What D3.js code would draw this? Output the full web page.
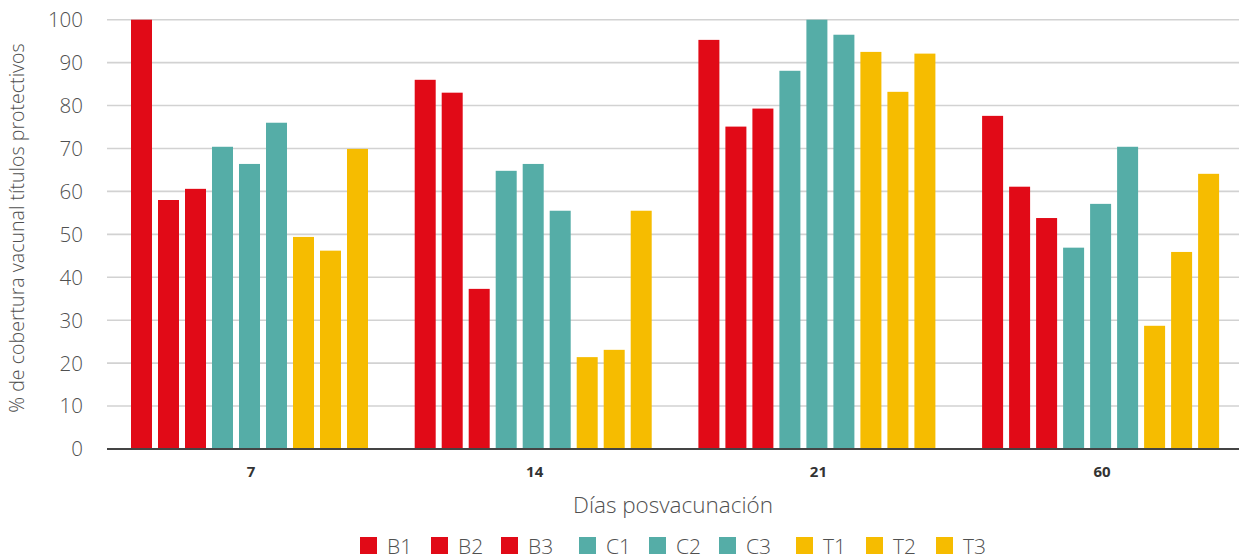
<!DOCTYPE html>
<html><head><meta charset="utf-8">
<script src="https://cdn.jsdelivr.net/npm/d3@7"></script>
<style>body{margin:0;background:#fff;}svg{display:block;font-family:"Open Sans",Lato,sans-serif;}</style>
</head><body>
<svg id="c" width="1243" height="559"></svg>
<script>
const categories = ["7", "14", "21", "60"];
const seriesNames = ["B1","B2","B3","C1","C2","C3","T1","T2","T3"];
const seriesColors = ["#E10A17","#E10A17","#E10A17","#55ADA7","#55ADA7","#55ADA7","#F6BC00","#F6BC00","#F6BC00"];
const B1 = [100, 86.0, 95.3, 77.6];
const B2 = [58.0, 83.0, 75.1, 61.1];
const B3 = [60.6, 37.3, 79.3, 53.8];
const C1 = [70.4, 64.8, 88.1, 46.9];
const C2 = [66.4, 66.4, 100, 57.1];
const C3 = [76.0, 55.5, 96.5, 70.4];
const T1 = [49.4, 21.4, 92.5, 28.7];
const T2 = [46.2, 23.1, 83.2, 45.9];
const T3 = [69.9, 55.5, 92.1, 64.1];
const yTicks = [0,10,20,30,40,50,60,70,80,90,100];
const seriesValues = [B1,B2,B3,C1,C2,C3,T1,T2,T3];

const svg = d3.select("#c");
const mLeft = 107, mRight = 1239, mTop = 19.7, mBottom = 449;
const x0 = d3.scaleBand().domain(categories).range([108, 108 + 4*283.7]).paddingInner(0).paddingOuter(0);
const x1 = d3.scaleBand().domain(seriesNames).range([23, 23 + 9*27 - 6]).paddingInner(6/27).paddingOuter(0);
const y = d3.scaleLinear().domain([0,100]).range([mBottom, mTop]);

// gridlines
svg.append("g").selectAll("line").data(yTicks.filter(d=>d>0)).join("line")
  .attr("x1", mLeft).attr("x2", mRight).attr("y1", d=>y(d)).attr("y2", d=>y(d))
  .attr("stroke", "#d2d2d2").attr("stroke-width", 1.6);

// y tick labels
svg.append("g").selectAll("text").data(yTicks).join("text")
  .attr("x", 83).attr("y", d=>y(d)).attr("dy","0.36em").attr("text-anchor","end")
  .attr("font-size", 20.5).attr("fill", "#505050").attr("font-weight", 300).text(d=>d);

// bars
const g = svg.append("g");
categories.forEach((c, ci) => {
  seriesNames.forEach((s, si) => {
    const v = seriesValues[si][ci];
    g.append("rect")
      .attr("x", x0(c) + x1(s)).attr("width", x1.bandwidth())
      .attr("y", y(v)).attr("height", y(0) - y(v))
      .attr("fill", seriesColors[si]);
  });
});

// baseline
svg.append("line").attr("x1", mLeft).attr("x2", mRight).attr("y1", mBottom).attr("y2", mBottom)
  .attr("stroke", "#444").attr("stroke-width", 2);

// category labels
svg.append("g").selectAll("text").data(categories).join("text")
  .attr("x", d=>x0(d)+x1.range()[0] + (x1.range()[1]-x1.range()[0])/2 + 1.5).attr("y", 477).attr("text-anchor","middle")
  .attr("font-size", 15).attr("font-weight", 700).attr("fill", "#333").text(d=>d);

// axis titles
svg.append("text").attr("x", 673).attr("y", 513).attr("text-anchor","middle")
  .attr("font-size", 22.5).attr("font-weight", 300).attr("fill", "#505050").text("Días posvacunación");
svg.append("text").attr("transform", "translate(24,228) rotate(-90)").attr("text-anchor","middle")
  .attr("font-size", 19.6).attr("font-weight", 300).attr("fill", "#505050").text("% de cobertura vacunal títulos protectivos");

// legend
const legendX = [360, 431, 501, 579, 649, 719, 796, 866, 936];
const lg = svg.append("g");
seriesNames.forEach((s, i) => {
  lg.append("rect").attr("x", legendX[i]).attr("y", 537).attr("width", 17).attr("height", 17).attr("fill", seriesColors[i]);
  lg.append("text").attr("x", legendX[i] + 27).attr("y", 553.5).attr("font-size", 21).attr("font-weight", 300)
    .attr("fill", "#505050").text(s);
});
</script>
</body></html>
